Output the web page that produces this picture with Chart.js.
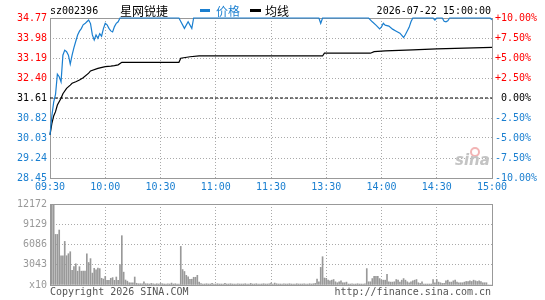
<!DOCTYPE html>
<html>
<head>
<meta charset="utf-8">
<script src="https://cdn.jsdelivr.net/npm/chart.js@4.4.0/dist/chart.umd.min.js"></script>
<style>
html, body { margin: 0; padding: 0; background: #fff; }
#wrap { position: relative; width: 545px; height: 300px; overflow: hidden; }
#priceBox { position: absolute; left: 0; top: 0; width: 545px; height: 200px; }
#volBox { position: absolute; left: 0; top: 195px; width: 545px; height: 105px; }
</style>
</head>
<body>
<div id="wrap">
  <div id="priceBox"><canvas id="priceChart"></canvas></div>
  <div id="volBox"><canvas id="volChart"></canvas></div>
</div>
<script>
// time axis (minutes since 09:30, 0..240)
var timeLabels = ['09:30', '10:00', '10:30', '11:00', '11:30', '13:30', '14:00', '14:30', '15:00'];

// left price axis / right percent axis
var priceTicks = [28.45, 29.24, 30.03, 30.82, 31.61, 32.40, 33.19, 33.98, 34.77];
var pctTicks = [-10, -7.5, -5, -2.5, 0, 2.5, 5, 7.5, 10];
var pctLabels = ['-10.00%', '-7.50%', '-5.00%', '-2.50%', ' 0.00%', '+2.50%', '+5.00%', '+7.50%', '+10.00%'];
var prevClose = 31.61;

// price line (minute, price)
var priceMin = [0,1,2,3,4,5,6,7,8,9,10,11,12,13,14,15,16,17,18,19,20,21,22,23,24,25,26,27,28,29,30,31,32,33,34,35,36,37,38,
  70,73,75,77,78,146,147,148,173,175,177,179,180,181,182,184,186,188,190,192,193,195,196,197,208,209,210,213,214,215,216,217,239,240];
var priceVal = [30.15,30.90,31.45,31.75,32.55,32.45,32.25,33.30,33.50,33.44,33.30,32.95,33.30,33.60,33.85,34.10,34.25,34.35,34.50,34.55,
  34.62,34.69,34.55,34.10,33.90,34.10,33.97,34.15,34.05,34.35,34.56,34.50,34.36,34.26,34.22,34.43,34.56,34.62,34.77,
  34.77,34.36,34.62,34.36,34.77,34.77,34.56,34.77,34.77,34.62,34.49,34.34,34.42,34.56,34.49,34.45,34.33,34.25,34.17,34.00,34.12,34.40,34.62,34.77,
  34.77,34.69,34.77,34.77,34.64,34.62,34.66,34.77,34.77,34.70];

// average price line
var avgMin = [0,1,2,3,4,6,7,9,11,12,14,16,18,21,22,26,30,33,35,37,39,70,71,76,81,148,149,174,176,182,197,210,240];
var avgVal = [30.15,30.60,30.90,31.07,31.33,31.60,31.78,31.99,32.12,32.19,32.25,32.32,32.41,32.59,32.68,32.78,32.85,32.87,32.89,32.92,
  33.02,33.02,33.18,33.24,33.27,33.27,33.38,33.38,33.44,33.47,33.51,33.55,33.61];

// volume per minute (x10)
var volTicks = [0, 3043, 6086, 9129, 12172];
var volLabels = ['x10', '3043', '6086', '9129', '12172'];
var volume = [
  5300,12172,12100,7600,7600,8260,4400,4400,6550,4400,
  4700,5000,2220,2780,3190,2080,2750,2080,2080,2080,
  4700,3380,3960,1790,2510,2270,2560,2460,1010,890,
  1300,720,720,1010,1110,700,1200,700,3060,7410,
  1930,750,580,340,340,340,1200,260,190,190,
  190,480,190,190,150,240,190,150,190,150,
  240,190,150,150,190,150,290,150,190,150,
  150,5800,2320,2030,1450,1210,870,870,1160,1160,
  1450,435,200,150,150,190,150,150,240,150,
  150,190,150,150,150,240,150,150,190,150,
  150,150,190,150,150,150,190,150,150,240,
  150,150,190,150,150,150,190,150,150,190,
  290,150,290,190,150,150,150,190,150,150,
  190,150,150,150,190,150,150,150,190,150,
  150,190,150,190,240,900,480,2650,4250,1050,
  1000,725,628,725,821,483,338,483,628,338,
  338,435,145,145,190,145,145,190,145,145,
  145,190,2463,483,483,966,1304,1304,1304,966,
  725,725,725,1594,483,435,435,483,821,725,
  435,725,966,725,483,338,483,628,725,821,
  338,242,483,145,145,145,145,145,821,338,
  821,435,338,242,242,628,725,435,435,628,
  725,435,338,338,338,435,531,531,628,531,
  725,628,531,628,531,338,338,338,0,0,
  0
];

var MONO = '"DejaVu Sans Mono", monospace';
var BLUE = '#1a7fd0';
var RED = '#ff0000';
var GRID = '#aaaaaa';
var FRAME = '#999999';

function pts(xs, ys) {
  return xs.map(function (x, i) { return { x: x, y: ys[i] }; });
}

var framePlugin = {
  id: 'frame',
  beforeDatasetsDraw: function (chart) {
    var a = chart.chartArea, ctx = chart.ctx;
    ctx.save();
    ctx.strokeStyle = FRAME;
    ctx.lineWidth = 1;
    ctx.strokeRect(Math.round(a.left) + 0.5, Math.round(a.top) + 0.5, Math.round(a.right - a.left), Math.round(a.bottom - a.top));
    ctx.restore();
  }
};

var titlePlugin = {
  id: 'title',
  afterDraw: function (chart) {
    var ctx = chart.ctx;
    ctx.save();
    ctx.textBaseline = 'middle';
    ctx.fillStyle = '#000';
    ctx.font = '10px ' + MONO;
    ctx.fillText('sz002396', 50, 11);
    ctx.font = '12px "Noto Sans CJK SC"';
    ctx.fillText('星网锐捷', 120, 11);
    ctx.fillStyle = BLUE;
    ctx.fillRect(200, 9, 10, 3);
    ctx.fillText('价格', 216, 11);
    ctx.fillStyle = '#000';
    ctx.fillRect(250, 9, 11, 3);
    ctx.fillText('均线', 265, 11);
    ctx.font = '10px ' + MONO;
    ctx.textAlign = 'right';
    ctx.fillText('2026-07-22 15:00:00', 491, 11);
    // watermark
    ctx.textAlign = 'left';
    ctx.strokeStyle = '#f2b4b4';
    ctx.lineWidth = 2;
    ctx.beginPath();
    ctx.arc(475, 152, 4, 0, Math.PI * 2);
    ctx.stroke();
    ctx.fillStyle = '#c4c4c4';
    ctx.font = 'italic bold 15px "DejaVu Sans"';
    ctx.fillText('sina', 455, 161);
    ctx.restore();
  }
};

var footPlugin = {
  id: 'foot',
  afterDraw: function (chart) {
    var ctx = chart.ctx;
    ctx.save();
    ctx.textBaseline = 'middle';
    ctx.fillStyle = '#555';
    ctx.font = '10px ' + MONO;
    ctx.fillText('Copyright 2026 SINA.COM', 50, 97);
    ctx.textAlign = 'right';
    ctx.fillText('http://finance.sina.com.cn', 491, 97);
    ctx.restore();
  }
};

function priceColor(v) {
  if (Math.abs(v - prevClose) < 0.001) return '#000';
  return v > prevClose ? RED : BLUE;
}

new Chart(document.getElementById('priceChart'), {
  type: 'line',
  data: {
    datasets: [
      { label: '价格', data: pts(priceMin, priceVal), borderColor: BLUE, borderWidth: 1.2, pointRadius: 0, tension: 0, clip: 3, order: 1 },
      { label: '均线', data: pts(avgMin, avgVal), borderColor: '#000', borderWidth: 1.2, pointRadius: 0, tension: 0, clip: 3, order: 2 },
      { label: '昨收', data: [{ x: 0, y: prevClose }, { x: 240, y: prevClose }], borderColor: '#000', borderWidth: 1, borderDash: [3, 2], pointRadius: 0, order: 3 }
    ]
  },
  options: {
    animation: false,
    responsive: true,
    maintainAspectRatio: false,
    devicePixelRatio: 1,
    layout: { padding: { top: 18, left: 0, right: 0, bottom: 0 } },
    plugins: { legend: { display: false }, tooltip: { enabled: false } },
    scales: {
      x: {
        type: 'linear', min: 0, max: 240,
        afterBuildTicks: function (s) { s.ticks = timeLabels.map(function (t, i) { return { value: i * 30 }; }); },
        ticks: {
          callback: function (v) { return timeLabels[Math.round(v / 30)]; },
          color: BLUE, font: { family: MONO, size: 10 }, maxRotation: 0, autoSkip: false, padding: 3
        },
        grid: { color: GRID, drawTicks: false },
        border: { display: false, dash: [1, 2] },
        afterFit: function (s) { s.height = 22; }
      },
      y: {
        position: 'left', min: 28.45, max: 34.77,
        afterBuildTicks: function (s) { s.ticks = priceTicks.map(function (v) { return { value: v }; }); },
        ticks: {
          callback: function (v) { return v.toFixed(2); },
          color: function (c) { return priceColor(c.tick.value); },
          font: { family: MONO, size: 10 }, padding: 3
        },
        grid: { color: GRID, drawTicks: false },
        border: { display: false, dash: [1, 2] },
        afterFit: function (s) { s.width = 50; }
      },
      pct: {
        position: 'right', min: -10, max: 10,
        afterBuildTicks: function (s) { s.ticks = pctTicks.map(function (v) { return { value: v }; }); },
        ticks: {
          callback: function (v, i) { return pctLabels[i]; },
          color: function (c) { return c.tick.value === 0 ? '#000' : (c.tick.value > 0 ? RED : BLUE); },
          font: { family: MONO, size: 10 }, padding: 3
        },
        grid: { display: false, drawTicks: false },
        border: { display: false },
        afterFit: function (s) { s.width = 53; }
      }
    }
  },
  plugins: [framePlugin, titlePlugin]
});

new Chart(document.getElementById('volChart'), {
  type: 'bar',
  data: {
    datasets: [
      { label: '成交量', data: volume.map(function (v, i) { return { x: i, y: v }; }), backgroundColor: '#999999', barThickness: 1, borderWidth: 0 }
    ]
  },
  options: {
    animation: false,
    responsive: true,
    maintainAspectRatio: false,
    devicePixelRatio: 1,
    layout: { padding: { top: 6, left: 0, right: 53, bottom: 0 } },
    plugins: { legend: { display: false }, tooltip: { enabled: false } },
    scales: {
      x: {
        type: 'linear', min: 0, max: 240, offset: false,
        afterBuildTicks: function (s) { s.ticks = timeLabels.map(function (t, i) { return { value: i * 30 }; }); },
        ticks: { display: false },
        grid: { color: GRID, drawTicks: false, offset: false },
        border: { display: false, dash: [1, 2] },
        afterFit: function (s) { s.height = 15; }
      },
      y: {
        min: 0, max: 12172,
        afterBuildTicks: function (s) { s.ticks = volTicks.map(function (v) { return { value: v }; }); },
        ticks: {
          callback: function (v, i) { return volLabels[i]; },
          color: '#999999', font: { family: MONO, size: 10 }, padding: 3
        },
        grid: { color: GRID, drawTicks: false },
        border: { display: false, dash: [1, 2] },
        afterFit: function (s) { s.width = 50; }
      }
    }
  },
  plugins: [framePlugin, footPlugin]
});
</script>
</body>
</html>
